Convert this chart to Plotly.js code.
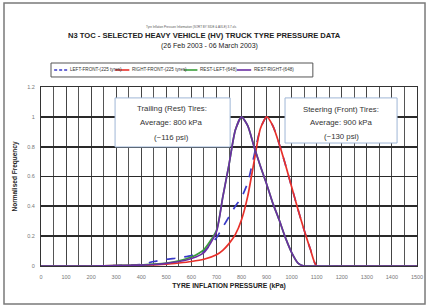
<!DOCTYPE html>
<html>
<head>
<meta charset="utf-8">
<script src="https://cdn.plot.ly/plotly-3.0.1.min.js"></script>
<style>html,body{margin:0;padding:0;background:#fff;}#chart{width:429px;height:307px;}</style>
</head>
<body>
<div id="chart"></div>
<script>
// Pressure (kPa)
const pressure = [0,100,200,300,400,450,500,550,600,650,700,725,750,775,800,825,850,875,900,925,950,975,1000,1025,1050,1075,1100,1200,1300,1400,1500];
// Normalised frequency per series
const leftFront  = [0,0,0,0.003,0.01,0.03,0.045,0.055,0.07,0.1,0.19,0.26,0.33,0.4,0.46,0.56,0.74,0.92,1.0,0.94,0.82,0.68,0.53,0.38,0.24,0.11,0,0,0,0,0];
const rightFront = [0,0,0,0.002,0.005,0.008,0.012,0.02,0.03,0.045,0.075,0.105,0.15,0.21,0.31,0.47,0.7,0.92,1.0,0.94,0.82,0.68,0.53,0.38,0.24,0.11,0,0,0,0,0];
const restLeft   = [0,0,0,0.003,0.006,0.012,0.02,0.035,0.06,0.11,0.24,0.46,0.68,0.91,1.0,0.94,0.8,0.67,0.55,0.42,0.31,0.19,0.09,0.02,0,0,0,0,0,0,0];
const restRight  = [0,0,0,0.003,0.006,0.01,0.018,0.03,0.05,0.09,0.23,0.46,0.68,0.91,1.0,0.94,0.8,0.67,0.55,0.42,0.31,0.19,0.09,0.02,0,0,0,0,0,0,0];

const seriesNames = ["LEFT-FRONT-(225 tyres)","RIGHT-FRONT-(225 tyres)","REST-LEFT-(648)","REST-RIGHT-(648)"];
const seriesColors = ["#3b3bc8","#e8302a","#3a9e3a","#6b2fa3"];
const seriesDash = ["dash","solid","solid","solid"];
const seriesData = [leftFront, rightFront, restLeft, restRight];

const xTickVals = [0,100,200,300,400,500,600,700,800,900,1000,1100,1200,1300,1400,1500];
const yTickVals = [0,0.2,0.4,0.6,0.8,1,1.2];

const titleMain = "N3 TOC - SELECTED HEAVY VEHICLE (HV) TRUCK TYRE PRESSURE DATA";
const titleDates = "(26 Feb 2003 - 06 March 2003)";
const titleFile = "Tyre Inflation Pressure Information (SORT BY SIDE & AXLE) 3.7.xls";
const trailingText = ["Trailing (Rest) Tires:","Average: 800 kPa","(~116 psi)"];
const steeringText = ["Steering (Front) Tires:","Average: 900 kPa","(~130 psi)"];

const FONT = "Liberation Sans, Arial, sans-serif";

const traces = seriesData.map((d,i)=>({
  x: pressure, y: d, type: "scatter", mode: "lines", name: seriesNames[i],
  line: {color: seriesColors[i], width: 1.7, dash: seriesDash[i], shape: "spline", smoothing: 0.6},
  showlegend: false, hoverinfo: "skip"
}));

const shapes = [];
const annotations = [];

// outer frame
shapes.push({type:"rect", xref:"paper", yref:"paper", x0:-0.0984, x1:1.0213, y0:-0.2123, y1:1.469,
  line:{color:"#7a7a7a", width:1.5}, fillcolor:"rgba(0,0,0,0)", layer:"below"});

// legend box
shapes.push({type:"rect", xref:"paper", yref:"paper", x0:0.0266, x1:0.723, y0:1.056, y1:1.134,
  line:{color:"#555", width:1}, fillcolor:"#fff"});
const legLineX = [[0.035,0.070],[0.197,0.235],[0.380,0.416],[0.521,0.559]];
const legTextX = [0.072,0.237,0.418,0.561];
seriesNames.forEach((n,i)=>{
  shapes.push({type:"line", xref:"paper", yref:"paper", x0:legLineX[i][0], x1:legLineX[i][1], y0:1.095, y1:1.095,
    line:{color:seriesColors[i], width:1.6, dash: seriesDash[i]==="dash" ? "3px,2px" : "solid"}});
  annotations.push({xref:"paper", yref:"paper", x:legTextX[i], y:1.095, xanchor:"left", yanchor:"middle",
    text:n, showarrow:false, font:{family:FONT, size:4.6, color:"#333"}});
});

// info boxes
shapes.push({type:"rect", xref:"paper", yref:"paper", x0:0.197, x1:0.503, y0:0.665, y1:0.939,
  line:{color:"#9fb6d6", width:1}, fillcolor:"#fff"});
shapes.push({type:"rect", xref:"paper", yref:"paper", x0:0.649, x1:0.947, y0:0.687, y1:0.939,
  line:{color:"#9fb6d6", width:1}, fillcolor:"#fff"});
const trailY = [0.880,0.799,0.716];
const steerY = [0.877,0.799,0.721];
trailingText.forEach((t,i)=>annotations.push({xref:"paper", yref:"paper", x:0.348, y:trailY[i], xanchor:"center", yanchor:"middle",
  text:t, showarrow:false, font:{family:FONT, size:7.8, color:"#333"}}));
steeringText.forEach((t,i)=>annotations.push({xref:"paper", yref:"paper", x:0.798, y:steerY[i], xanchor:"center", yanchor:"middle",
  text:t, showarrow:false, font:{family:FONT, size:7.8, color:"#333"}}));

// titles
annotations.push({xref:"paper", yref:"paper", x:0.40, y:1.335, xanchor:"center", yanchor:"middle",
  text:titleFile, showarrow:false, font:{family:FONT, size:3, color:"#555"}});
annotations.push({xref:"paper", yref:"paper", x:0.436, y:1.285, xanchor:"center", yanchor:"middle",
  text:"<b>"+titleMain+"</b>", showarrow:false, font:{family:FONT, size:7.6, color:"#222"}});
annotations.push({xref:"paper", yref:"paper", x:0.449, y:1.229, xanchor:"center", yanchor:"middle",
  text:titleDates, showarrow:false, font:{family:FONT, size:7, color:"#222"}});

const layout = {
  width: 429, height: 307,
  margin: {l:41, r:12, t:87, b:41, pad:0},
  paper_bgcolor: "#fff", plot_bgcolor: "#fff",
  showlegend: false,
  xaxis: {
    range: [0,1500], tickvals: xTickVals, ticks: "", ticklabelstandoff: 5,
    showgrid: true, gridcolor: "#444", gridwidth: 1,
    minor: {dtick: 50, showgrid: true, gridcolor: "#555", gridwidth: 1},
    showline: true, linecolor: "#333", linewidth: 1, mirror: true, zeroline: false,
    tickfont: {family: FONT, size: 5.5, color: "#777"},
    title: {text: "<b>TYRE INFLATION PRESSURE (kPa)</b>", standoff: 4, font: {family: FONT, size: 6.8, color: "#222"}}
  },
  yaxis: {
    range: [0,1.2], tickvals: yTickVals, ticks: "", ticklabelstandoff: 4,
    showgrid: true, gridcolor: "#2a2a2a", gridwidth: 1.8,
    showline: true, linecolor: "#333", linewidth: 1, mirror: true, zeroline: false,
    tickfont: {family: FONT, size: 5.5, color: "#777"},
    title: {text: "<b>Normalised Frequency</b>", standoff: 8, font: {family: FONT, size: 6.5, color: "#222"}}
  },
  shapes: shapes,
  annotations: annotations
};

Plotly.newPlot("chart", traces, layout, {staticPlot: true, displayModeBar: false});
</script>
</body>
</html>
